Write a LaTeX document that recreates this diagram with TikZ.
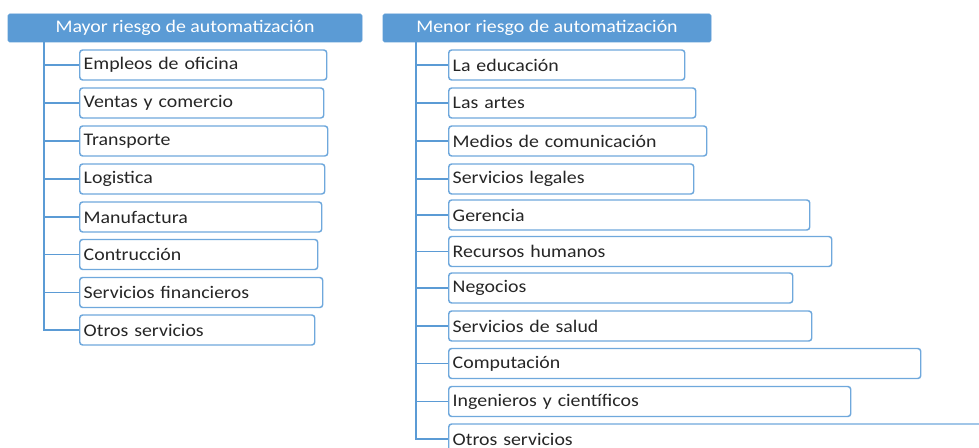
\documentclass[tikz,border=0pt]{standalone}
\usepackage{fontspec}
\setmainfont{Carlito}[FakeStretch=1.12]
\definecolor{hdr}{HTML}{5B9BD5}
\definecolor{boxc}{HTML}{6FA8DC}
\definecolor{conc}{HTML}{5B9BD5}
\begin{document}
\begin{tikzpicture}[x=0.75pt,y=-0.75pt,
  every node/.style={font=\fontsize{13.3}{15}\selectfont},
  hbox/.style={fill=hdr,draw=hdr,rounded corners=1.2pt,minimum height=21pt,inner sep=0pt,text=white},
  ibox/.style={draw=boxc,line width=1.1pt,rounded corners=2.2pt,fill=white,minimum height=22.5pt,inner xsep=3pt,inner ysep=0pt,anchor=west,align=left,text=black!85},
  conn/.style={draw=conc,line width=1.1pt}]
\useasboundingbox (0,0) rectangle (979,448);
% headers
\node[hbox,minimum width=265.5pt] (hL) at (185,28) {Mayor riesgo de automatización};
\node[hbox,minimum width=246pt] (hR) at (547,28) {Menor riesgo de automatización};
\coordinate (lt) at (44,42);
\coordinate (rt) at (416,42);
% left column
\node[ibox,text width=179.25pt] (l1) at (79,65) {Empleos de oficina};
\node[ibox,text width=177pt] (l2) at (79,103) {Ventas y comercio};
\node[ibox,text width=180pt] (l3) at (79,141) {Transporte};
\node[ibox,text width=177.75pt] (l4) at (79,179) {Logistica};
\node[ibox,text width=175.5pt] (l5) at (79,217) {Manufactura};
\node[ibox,text width=172.5pt] (l6) at (79,254.5) {Contrucción};
\node[ibox,text width=176.25pt] (l7) at (79,292.5) {Servicios financieros};
\node[ibox,text width=170.25pt] (l8) at (79,330) {Otros servicios};
% right column
\node[ibox,text width=171pt] (r1) at (448,65) {La educación};
\node[ibox,text width=179.25pt] (r2) at (448,103) {Las artes};
\node[ibox,text width=187.5pt] (r3) at (448,141) {Medios de comunicación};
\node[ibox,text width=177.75pt] (r4) at (448,179) {Servicios legales};
\node[ibox,text width=264.75pt] (r5) at (448,215) {Gerencia};
\node[ibox,text width=281.25pt] (r6) at (448,251.5) {Recursos humanos};
\node[ibox,text width=252pt] (r7) at (448,288) {Negocios};
\node[ibox,text width=266.25pt] (r8) at (448,326) {Servicios de salud};
\node[ibox,text width=348pt] (r9) at (448,363.5) {Computación};
\node[ibox,text width=295.5pt] (r10) at (448,401.5) {Ingenieros y científicos};
\node[ibox,text width=399pt] (r11) at (448,439) {Otros servicios};
% connectors
\draw[conn] (lt) |- (l8.west);
\foreach \i in {1,...,7}{\draw[conn] (l\i.west) -- (l\i.west -| lt);}
\draw[conn] (rt) |- (r11.west);
\foreach \i in {1,...,10}{\draw[conn] (r\i.west) -- (r\i.west -| rt);}
\end{tikzpicture}
\end{document}
